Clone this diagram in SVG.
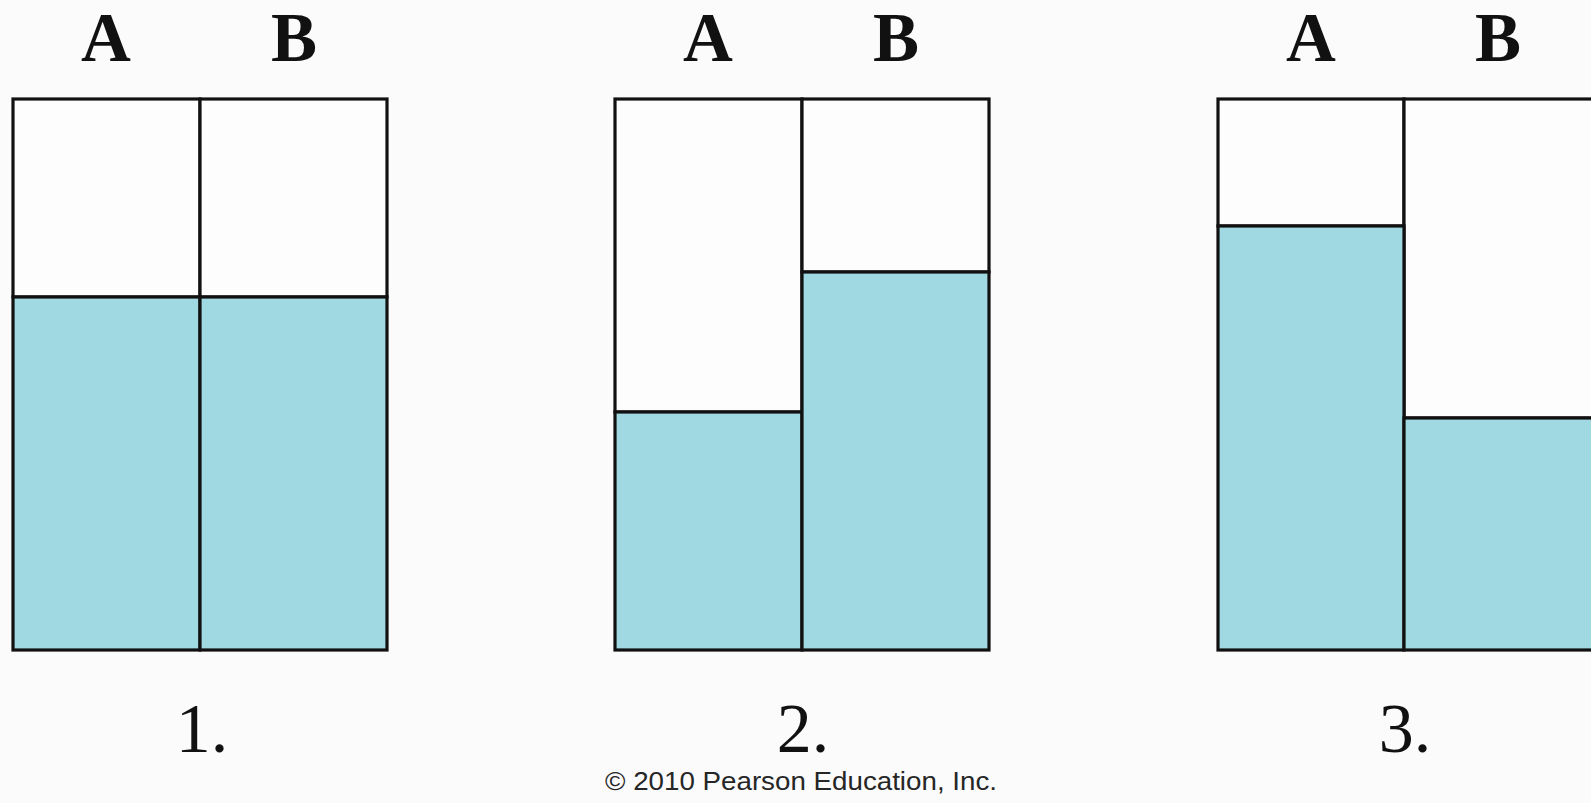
<svg xmlns="http://www.w3.org/2000/svg" width="1591" height="803" viewBox="0 0 1591 803">
<style>
.bg{fill:#fbfbfc}
.empty{fill:#fdfdfe;stroke:#111;stroke-width:3.2}
.water{fill:#a0d9e2;stroke:#111;stroke-width:3.2}
.col{font-family:"Liberation Serif","Times New Roman",serif;font-weight:bold;font-size:69px;fill:#111;text-anchor:middle}
.num{font-family:"Liberation Serif","Times New Roman",serif;font-size:70px;fill:#111;text-anchor:middle}
.copy{font-family:"Liberation Sans",Arial,sans-serif;font-size:26px;fill:#262626;text-anchor:middle}
</style>
<rect class="bg" x="0" y="0" width="1591" height="803"/>
<g id="panel1">
<rect class="empty" x="13" y="99" width="187" height="198"/>
<rect class="empty" x="200" y="99" width="187" height="198"/>
<rect class="water" x="13" y="297" width="187" height="353"/>
<rect class="water" x="200" y="297" width="187" height="353"/>
<text class="col" x="106" y="61">A</text>
<text class="col" x="294" y="61">B</text>
<text class="num" x="202" y="752">1.</text>
</g>
<g id="panel2">
<rect class="empty" x="615" y="99" width="187" height="313"/>
<rect class="empty" x="802" y="99" width="187" height="173"/>
<rect class="water" x="615" y="412" width="187" height="238"/>
<rect class="water" x="802" y="272" width="187" height="378"/>
<text class="col" x="708" y="61">A</text>
<text class="col" x="896" y="61">B</text>
<text class="num" x="803" y="752">2.</text>
</g>
<g id="panel3">
<rect class="empty" x="1218" y="99" width="186" height="127"/>
<rect class="empty" x="1404" y="99" width="190" height="319"/>
<rect class="water" x="1218" y="226" width="186" height="424"/>
<rect class="water" x="1404" y="418" width="190" height="232"/>
<text class="col" x="1311" y="61">A</text>
<text class="col" x="1498" y="61">B</text>
<text class="num" x="1405" y="752">3.</text>
</g>
<g id="connectors"/>
<text class="copy" x="801" y="790" textLength="392" lengthAdjust="spacingAndGlyphs">© 2010 Pearson Education, Inc.</text>
</svg>
